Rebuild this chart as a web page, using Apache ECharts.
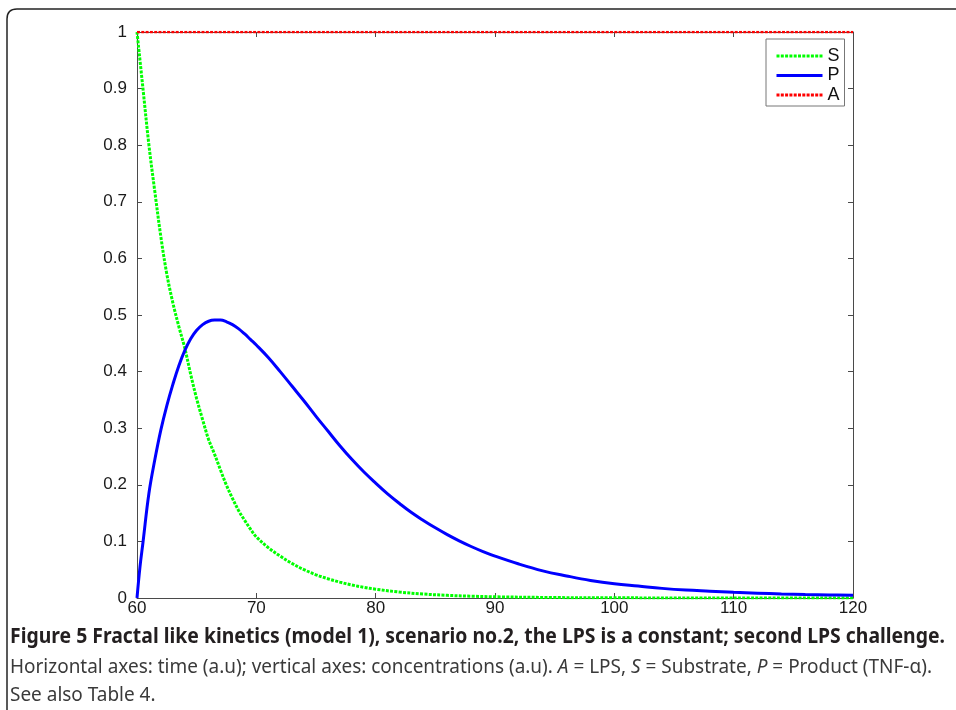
<!DOCTYPE html>
<html>
<head>
<meta charset="utf-8">
<script src="https://cdn.jsdelivr.net/npm/echarts@6/dist/echarts.min.js"></script>
<style>
html,body{margin:0;padding:0;background:#fff;}
#chart{width:956px;height:710px;}
</style>
</head>
<body>
<div id="chart"></div>
<script>
// ---- Data ----
const tS = [60, 60.5, 61, 61.5, 62, 62.5, 63, 63.5, 64, 64.5, 65, 65.5, 66, 66.5, 67, 67.5, 68, 68.5, 69, 69.5, 70, 71, 72, 73, 74, 75, 76, 77, 78, 79, 80, 82, 84, 86, 88, 90, 95, 100, 110, 120];
const S  = [1.0, 0.90, 0.80, 0.717, 0.638, 0.572, 0.522, 0.48, 0.442, 0.395, 0.352, 0.315, 0.28, 0.254, 0.226, 0.199, 0.176, 0.155, 0.138, 0.122, 0.108, 0.089, 0.074, 0.061, 0.050, 0.041, 0.034, 0.028, 0.023, 0.019, 0.0155, 0.0105, 0.007, 0.0047, 0.0032, 0.0021, 0.0008, 0.0003, 0.0001, 0];

const tP = [60, 60.25, 60.5, 61, 61.5, 62, 62.5, 63, 63.5, 64, 64.5, 65, 65.5, 66, 66.5, 67, 67.5, 68, 68.5, 69, 69.5, 70, 71, 72, 73, 74, 75, 76, 77, 78, 79, 80, 81, 82, 83, 84, 85, 86, 87, 88, 89, 90, 92, 94, 96, 98, 100, 102, 104, 106, 108, 110, 112, 114, 116, 118, 120];
const P  = [0, 0.055, 0.098, 0.185, 0.245, 0.297, 0.340, 0.377, 0.41, 0.437, 0.458, 0.473, 0.483, 0.489, 0.491, 0.491, 0.488, 0.483, 0.476, 0.467, 0.457, 0.447, 0.425, 0.400, 0.374, 0.348, 0.321, 0.295, 0.269, 0.245, 0.223, 0.203, 0.184, 0.167, 0.151, 0.137, 0.124, 0.112, 0.101, 0.091, 0.082, 0.074, 0.060, 0.048, 0.039, 0.031, 0.025, 0.021, 0.017, 0.014, 0.012, 0.010, 0.0085, 0.0072, 0.0062, 0.0054, 0.0047];

const tA = [60, 120];
const A  = [1, 1];

const seriesNames = ['S', 'P', 'A'];
const xTicks = [60, 70, 80, 90, 100, 110, 120];
const yTicks = [0, 0.1, 0.2, 0.3, 0.4, 0.5, 0.6, 0.7, 0.8, 0.9, 1];

const captionTitle = 'Figure 5 Fractal like kinetics (model 1), scenario no.2, the LPS is a constant; second LPS challenge.';
const captionLine2Plain = 'Horizontal axes: time (a.u); vertical axes: concentrations (a.u). A = LPS, S = Substrate, P = Product (TNF-α).';
const captionLine2Rich = 'Horizontal axes: time (a.u); vertical axes: concentrations (a.u). {i|A} = LPS, {i|S} = Substrate, {i|P} = Product (TNF-α).';
const captionLine3 = 'See also Table 4.';

// ---- Build ----
const zip = (xs, ys) => xs.map((x, i) => [x, ys[i]]);

const capFont = '"Noto Sans", "Open Sans", sans-serif';
const cv = document.createElement('canvas').getContext('2d');
cv.font = 'bold 21px ' + capFont;
const w1 = cv.measureText(captionTitle).width;
cv.font = '20px ' + capFont;
const w2 = cv.measureText(captionLine2Plain).width;
const sx1 = 935 / w1;
const sx2 = 925 / w2;

const axisCol = '#4a4a4a';
const labelStyle = { color: '#1a1a1a', fontSize: 17, fontFamily: '"Liberation Sans", Arial, sans-serif' };

const chart = echarts.init(document.getElementById('chart'), null, { renderer: 'canvas' });
chart.setOption({
  animation: false,
  backgroundColor: '#ffffff',
  grid: { left: 137, right: 103, top: 32, bottom: 112, containLabel: false },
  xAxis: [
    {
      type: 'value', min: xTicks[0], max: xTicks[xTicks.length - 1], interval: 10,
      axisLine: { show: true, onZero: false, lineStyle: { color: axisCol, width: 1 } },
      axisTick: { show: true, inside: true, length: 5, lineStyle: { color: axisCol } },
      axisLabel: Object.assign({ margin: 2 }, labelStyle),
      splitLine: { show: false }
    },
    {
      type: 'value', position: 'top', min: xTicks[0], max: xTicks[xTicks.length - 1], interval: 10,
      axisLine: { show: true, onZero: false, lineStyle: { color: axisCol, width: 1 } },
      axisTick: { show: true, inside: true, length: 5, lineStyle: { color: axisCol } },
      axisLabel: { show: false },
      splitLine: { show: false }
    }
  ],
  yAxis: [
    {
      type: 'value', min: yTicks[0], max: yTicks[yTicks.length - 1], interval: 0.1,
      axisLine: { show: true, onZero: false, lineStyle: { color: axisCol, width: 1 } },
      axisTick: { show: true, inside: true, length: 5, lineStyle: { color: axisCol } },
      axisLabel: Object.assign({ margin: 10 }, labelStyle),
      splitLine: { show: false }
    },
    {
      type: 'value', position: 'right', min: yTicks[0], max: yTicks[yTicks.length - 1], interval: 0.1,
      axisLine: { show: true, onZero: false, lineStyle: { color: axisCol, width: 1 } },
      axisTick: { show: true, inside: true, length: 5, lineStyle: { color: axisCol } },
      axisLabel: { show: false },
      splitLine: { show: false }
    }
  ],
  legend: {
    orient: 'vertical',
    left: 766, top: 39,
    padding: [8, 5, 2, 9],
    itemWidth: 46, itemHeight: 17, itemGap: 1.5,
    backgroundColor: '#ffffff',
    borderColor: '#777777', borderWidth: 1, borderRadius: 0,
    itemStyle: { opacity: 0 },
    lineStyle: { width: 3 },
    textStyle: { color: '#111', fontSize: 18, fontFamily: '"Liberation Sans", Arial, sans-serif' },
    data: seriesNames
  },
  series: [
    {
      name: seriesNames[0], type: 'line', smooth: 0.35, symbol: 'none', z: 3,
      data: zip(tS, S),
      lineStyle: { color: '#00ff00', width: 3, type: [3, 1.3] },
      itemStyle: { color: '#00ff00' }
    },
    {
      name: seriesNames[1], type: 'line', smooth: 0.4, symbol: 'none', z: 4,
      data: zip(tP, P),
      lineStyle: { color: '#0000ff', width: 3, type: 'solid' },
      itemStyle: { color: '#0000ff' }
    },
    {
      name: seriesNames[2], type: 'line', symbol: 'none', z: 5,
      data: zip(tA, A),
      lineStyle: { color: '#ff0000', width: 2.5, type: [3, 1.3] },
      itemStyle: { color: '#ff0000' }
    }
  ],
  graphic: [
    {
      type: 'line', silent: true,
      shape: { x1: 7, y1: 710, x2: 7, y2: 19 },
      style: { stroke: '#222', lineWidth: 1.5 }
    },
    {
      type: 'bezierCurve', silent: true,
      shape: { x1: 7, y1: 19, cpx1: 7, cpy1: 9, x2: 17, y2: 9 },
      style: { stroke: '#222', lineWidth: 1.5, fill: null }
    },
    {
      type: 'line', silent: true,
      shape: { x1: 17, y1: 9, x2: 956, y2: 9 },
      style: { stroke: '#222', lineWidth: 1.5 }
    },
    {
      type: 'text', x: 10, y: 637, scaleX: sx1,
      style: { text: captionTitle, font: 'bold 21px ' + capFont, fill: '#231f20', textVerticalAlign: 'middle' }
    },
    {
      type: 'text', x: 10, y: 667, scaleX: sx2,
      style: {
        text: captionLine2Rich, font: '20px ' + capFont, fill: '#3a3a3a', textVerticalAlign: 'middle',
        rich: { i: { fontStyle: 'italic', fontSize: 20, fontFamily: capFont, fill: '#3a3a3a' } }
      }
    },
    {
      type: 'text', x: 10, y: 695, scaleX: sx2,
      style: { text: captionLine3, font: '20px ' + capFont, fill: '#3a3a3a', textVerticalAlign: 'middle' }
    }
  ]
});
</script>
</body>
</html>
